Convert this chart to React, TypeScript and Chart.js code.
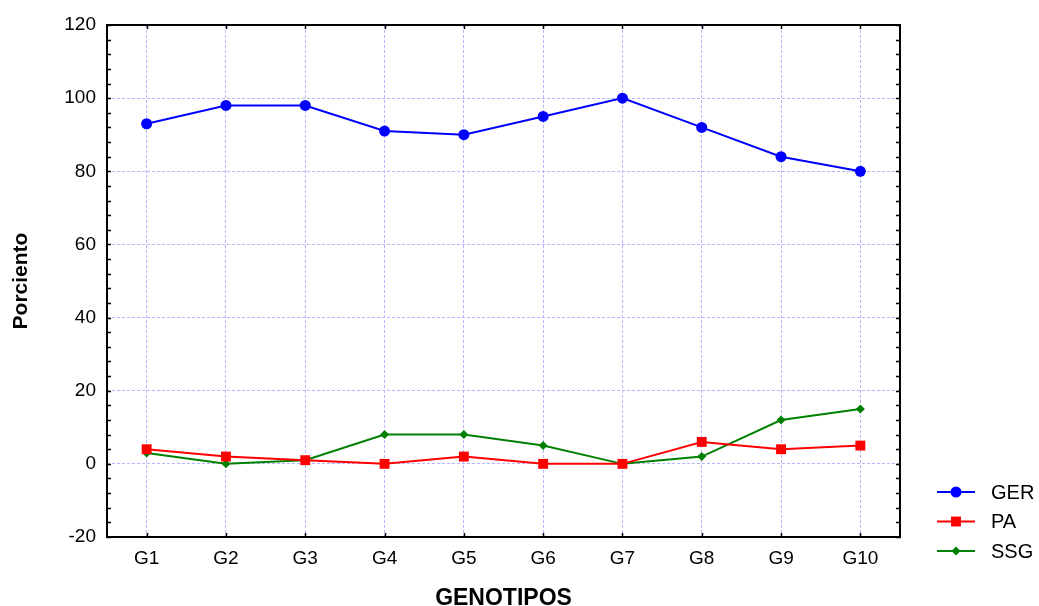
import React, { useEffect, useRef } from "react";
import { Chart, registerables } from "chart.js";

Chart.register(...registerables);

const categories = ["G1", "G2", "G3", "G4", "G5", "G6", "G7", "G8", "G9", "G10"];
const gerValues = [93, 98, 98, 91, 90, 95, 100, 92, 84, 80];
const paValues = [4, 2, 1, 0, 2, 0, 0, 6, 4, 5];
const ssgValues = [3, 0, 1, 8, 8, 5, 0, 2, 12, 15];
const seriesNames = ["GER", "PA", "SSG"];
const yMin = -20;
const yMax = 120;
const yStep = 20;
const yMinorStep = 4;

const FONT = "'Liberation Sans', Arial, sans-serif";

const decorPlugin = {
  id: "decor",
  afterDraw(chart: any) {
    const ctx = chart.ctx;
    const { left, right, top, bottom } = chart.chartArea;
    const x = chart.scales.x;
    const y = chart.scales.y;
    ctx.save();
    ctx.strokeStyle = "#000";
    ctx.lineWidth = 1.5;
    for (let v = yMin; v <= yMax; v += yMinorStep) {
      const py = Math.round(y.getPixelForValue(v)) + 0.5;
      ctx.beginPath();
      ctx.moveTo(left, py);
      ctx.lineTo(left + 4, py);
      ctx.moveTo(right, py);
      ctx.lineTo(right - 4, py);
      ctx.stroke();
    }
    for (let i = 0; i < categories.length; i++) {
      const px = Math.round(x.getPixelForValue(i)) + 0.5;
      ctx.beginPath();
      ctx.moveTo(px, top);
      ctx.lineTo(px, top + 4);
      ctx.moveTo(px, bottom);
      ctx.lineTo(px, bottom - 4);
      ctx.stroke();
    }
    ctx.lineWidth = 2;
    ctx.strokeRect(left, top, right - left, bottom - top);

    const ds = chart.data.datasets;
    const lx = 937;
    const baseY = 492;
    ctx.font = `20px ${FONT}`;
    ctx.textBaseline = "middle";
    ctx.textAlign = "left";
    ds.forEach((d: any, i: number) => {
      const ly = baseY + i * 29.5;
      ctx.strokeStyle = d.borderColor;
      ctx.lineWidth = 2;
      ctx.beginPath();
      ctx.moveTo(lx, ly);
      ctx.lineTo(lx + 38, ly);
      ctx.stroke();
      ctx.fillStyle = d.backgroundColor;
      const ps = d.pointStyle;
      const r = d.pointRadius;
      const cx = lx + 19;
      ctx.beginPath();
      if (ps === "circle") {
        ctx.arc(cx, ly, r, 0, Math.PI * 2);
      } else if (ps === "rect") {
        const s = r * Math.SQRT1_2;
        ctx.rect(cx - s, ly - s, 2 * s, 2 * s);
      } else {
        ctx.moveTo(cx, ly - r);
        ctx.lineTo(cx + r, ly);
        ctx.lineTo(cx, ly + r);
        ctx.lineTo(cx - r, ly);
        ctx.closePath();
      }
      ctx.fill();
      ctx.fillStyle = "#000";
      ctx.fillText(d.label, lx + 54, ly + 1);
    });
    ctx.restore();
  },
};

export default function App() {
  const ref = useRef<HTMLCanvasElement>(null);
  useEffect(() => {
    if (!ref.current) return;
    const chart = new Chart(ref.current, {
      type: "line",
      data: {
        labels: categories,
        datasets: [
          {
            label: seriesNames[0],
            data: gerValues,
            borderColor: "#0000ff",
            backgroundColor: "#0000ff",
            pointStyle: "circle",
            pointRadius: 5.5,
            borderWidth: 2,
            pointBorderWidth: 0,
          },
          {
            label: seriesNames[1],
            data: paValues,
            borderColor: "#ff0000",
            backgroundColor: "#ff0000",
            pointStyle: "rect",
            pointRadius: 7,
            borderWidth: 2,
            pointBorderWidth: 0,
          },
          {
            label: seriesNames[2],
            data: ssgValues,
            borderColor: "#008000",
            backgroundColor: "#008000",
            pointStyle: "rectRot",
            pointRadius: 4.5,
            borderWidth: 2,
            pointBorderWidth: 0,
          },
        ],
      },
      options: {
        animation: false,
        responsive: false,
        layout: { padding: { top: 25, right: 139, left: 0, bottom: 0 } },
        plugins: { legend: { display: false }, tooltip: { enabled: false } },
        scales: {
          x: {
            offset: true,
            grid: {
              display: true,
              offset: false,
              color: "#b4b4ff",
              lineWidth: 1,
              drawTicks: false,
            },
            border: { display: false, dash: [3, 2] },
            ticks: { color: "#000", font: { family: FONT, size: 19 }, padding: 10 },
            title: {
              display: true,
              text: "GENOTIPOS",
              color: "#000",
              font: { family: FONT, size: 23, weight: "bold" },
              padding: { top: 10, bottom: -6 },
            },
            afterFit(scale: any) {
              scale.height = 69;
            },
          },
          y: {
            min: yMin,
            max: yMax,
            grid: { color: "#b4b4ff", lineWidth: 1, drawTicks: false },
            border: { display: false, dash: [3, 2] },
            ticks: {
              stepSize: yStep,
              color: "#000",
              font: { family: FONT, size: 19 },
              padding: 11,
            },
            title: {
              display: true,
              text: "Porciento",
              color: "#000",
              font: { family: FONT, size: 21, weight: "bold" },
              padding: { top: 9, bottom: 0 },
            },
            afterFit(scale: any) {
              scale.width = 107;
            },
          },
        },
      },
      plugins: [decorPlugin],
    } as any);
    return () => chart.destroy();
  }, []);
  return (
    <div style={{ position: "absolute", left: 0, top: 0, width: 1039, height: 606 }}>
      <canvas ref={ref} width={1039} height={606} style={{ display: "block" }} />
    </div>
  );
}
